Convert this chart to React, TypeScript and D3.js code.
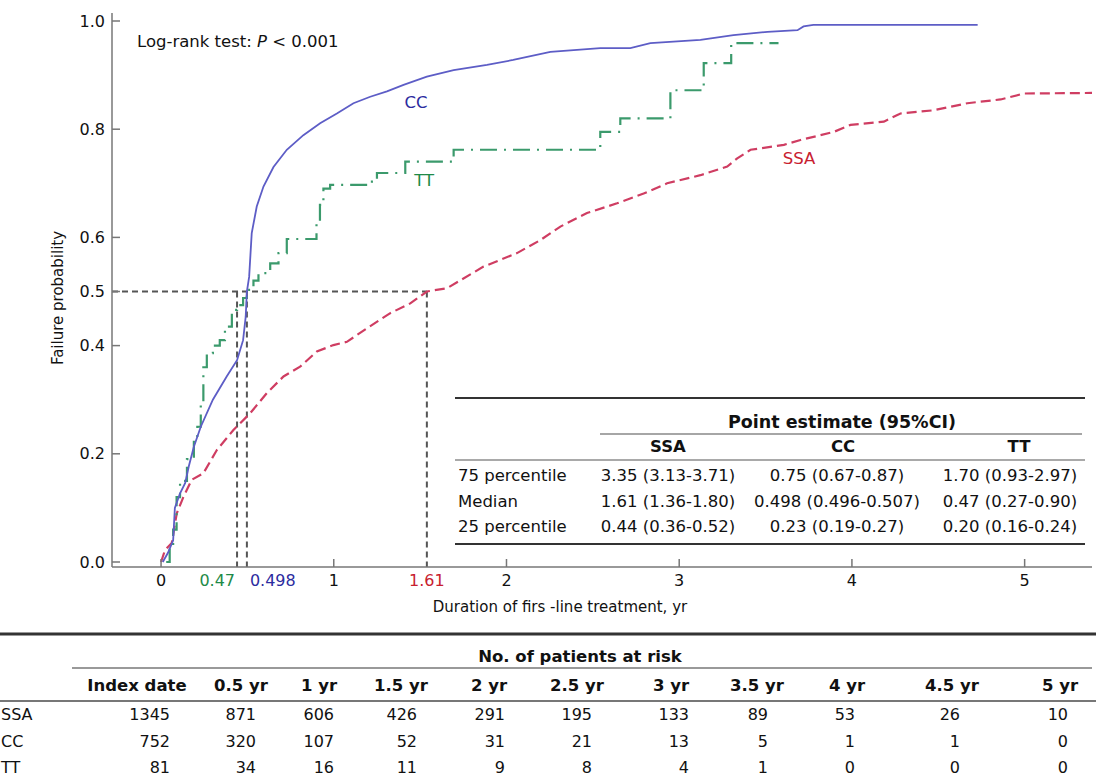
import React from "react";
import * as d3 from "d3";

const W = 1096;
const H = 778;

// cumulative failure curves, [years, probability]
const ssaCurve: [number, number][] = [
  [0, 0], [0.023, 0.022], [0.062, 0.035], [0.091, 0.09], [0.129, 0.12], [0.178, 0.152],
  [0.245, 0.164], [0.323, 0.207], [0.419, 0.244], [0.516, 0.275], [0.612, 0.312],
  [0.709, 0.343], [0.805, 0.361], [0.902, 0.389], [0.998, 0.401], [1.076, 0.407],
  [1.192, 0.432], [1.327, 0.46], [1.443, 0.478], [1.539, 0.5], [1.655, 0.506],
  [1.867, 0.546], [2.061, 0.571], [2.196, 0.595], [2.312, 0.62], [2.466, 0.645],
  [2.64, 0.663], [2.794, 0.681], [2.93, 0.7], [3.123, 0.715], [3.278, 0.731],
  [3.336, 0.746], [3.413, 0.762], [3.606, 0.771], [3.702, 0.78], [3.895, 0.795],
  [3.992, 0.808], [4.185, 0.814], [4.281, 0.829], [4.474, 0.835], [4.668, 0.848],
  [4.861, 0.855], [4.996, 0.866], [5.39, 0.867],
];

const ccCurve: [number, number][] = [
  [0.01, 0], [0.04, 0.017], [0.07, 0.04], [0.08, 0.1], [0.11, 0.127], [0.14, 0.146],
  [0.16, 0.176], [0.19, 0.213], [0.23, 0.25], [0.3, 0.3], [0.38, 0.343], [0.44, 0.373],
  [0.475, 0.41], [0.49, 0.453], [0.497, 0.5], [0.51, 0.527], [0.525, 0.608],
  [0.554, 0.657], [0.593, 0.694], [0.651, 0.73], [0.728, 0.762], [0.824, 0.789],
  [0.921, 0.811], [1.018, 0.829], [1.114, 0.848], [1.211, 0.86], [1.308, 0.87],
  [1.404, 0.882], [1.539, 0.897], [1.694, 0.909], [1.887, 0.919], [2.039, 0.928],
  [2.254, 0.943], [2.543, 0.95], [2.717, 0.95], [2.833, 0.959], [3.123, 0.965],
  [3.314, 0.974], [3.511, 0.98], [3.685, 0.983], [3.72, 0.99], [3.777, 0.993],
  [4.728, 0.993],
];

const ttCurve: [number, number][] = [
  [0.03, 0], [0.05, 0.03], [0.07, 0.06], [0.09, 0.12], [0.11, 0.15], [0.15, 0.19],
  [0.19, 0.23], [0.21, 0.25], [0.23, 0.29], [0.245, 0.36], [0.265, 0.386], [0.3, 0.4],
  [0.34, 0.41], [0.37, 0.435], [0.41, 0.466], [0.44, 0.475], [0.475, 0.488],
  [0.497, 0.503], [0.535, 0.52], [0.564, 0.534], [0.632, 0.552], [0.68, 0.571],
  [0.728, 0.597], [0.9, 0.626], [0.92, 0.66], [0.94, 0.69], [0.979, 0.697],
  [1.221, 0.703], [1.25, 0.719], [1.414, 0.74], [1.694, 0.762], [2.543, 0.795],
  [2.659, 0.82], [2.949, 0.872], [3.142, 0.922], [3.301, 0.959], [3.575, 0.959],
];

const yTicks = [0, 0.2, 0.4, 0.5, 0.6, 0.8, 1.0];
const xTicks = [0, 1, 2, 3, 4, 5];

// median markers: label and where the dashed drop line sits on the axis
const medianLabels = ["0.47", "0.498", "1.61"];
const medianPos = [0.44, 0.497, 1.539];

const groups = ["SSA", "CC", "TT"];
const percentileRows = ["75 percentile", "Median", "25 percentile"];
const ssaEstimates = ["3.35 (3.13-3.71)", "1.61 (1.36-1.80)", "0.44 (0.36-0.52)"];
const ccEstimates = ["0.75 (0.67-0.87)", "0.498 (0.496-0.507)", "0.23 (0.19-0.27)"];
const ttEstimates = ["1.70 (0.93-2.97)", "0.47 (0.27-0.90)", "0.20 (0.16-0.24)"];

const riskTimes = ["Index date", "0.5 yr", "1 yr", "1.5 yr", "2 yr", "2.5 yr", "3 yr", "3.5 yr", "4 yr", "4.5 yr", "5 yr"];
const riskSSA = [1345, 871, 606, 426, 291, 195, 133, 89, 53, 26, 10];
const riskCC = [752, 320, 107, 52, 31, 21, 13, 5, 1, 1, 0];
const riskTT = [81, 34, 16, 11, 9, 8, 4, 1, 0, 0, 0];

const colors = { SSA: "#cf3d62", CC: "#5d5dc6", TT: "#3b9a6c" };
const labelColors = { SSA: "#c8202f", CC: "#2c2ca0", TT: "#1e8a48" };
const medianColors = [labelColors.TT, labelColors.CC, labelColors.SSA];

const FONT = "'DejaVu Sans', Verdana, sans-serif";

// table column layout (pixels)
const riskHeaderX = [137, 241, 319, 401, 489, 577, 671, 757, 847, 952, 1060];
const riskValueRight = [170, 256, 334, 417, 505, 592, 689, 768, 855, 960, 1068];
const estHeaderX = [668, 843, 1019];
const estValueX = [668, 837, 1010];

export default function App() {
  const x = d3.scaleLinear().domain([-0.284, 5.39]).range([112, 1092]);
  const y = d3.scaleLinear().domain([0, 1]).range([562, 21]);

  const linear = d3.line<[number, number]>().x((d) => x(d[0])).y((d) => y(d[1]));
  const stepped = d3
    .line<[number, number]>()
    .x((d) => x(d[0]))
    .y((d) => y(d[1]))
    .curve(d3.curveStepAfter);

  const axisY = 567;
  const riskRows = [riskSSA, riskCC, riskTT];
  const estimates = [ssaEstimates, ccEstimates, ttEstimates];

  return (
    <div style={{ position: "absolute", left: 0, top: 0 }}>
      <svg width={W} height={H} style={{ display: "block", background: "#fff" }} fontFamily={FONT}>
        {/* median guide lines */}
        <g stroke="#555" strokeWidth={2} strokeDasharray="6,4" fill="none">
          <line x1={x.range()[0]} x2={x(medianPos[2])} y1={y(0.5)} y2={y(0.5)} />
          {medianPos.map((m, i) => (
            <line key={i} x1={x(m)} x2={x(m)} y1={y(0.5)} y2={axisY} />
          ))}
        </g>

        {/* curves */}
        <path d={linear(ssaCurve) || ""} fill="none" stroke={colors.SSA} strokeWidth={2.2} strokeDasharray="10,5" />
        <path d={stepped(ttCurve) || ""} fill="none" stroke={colors.TT} strokeWidth={2.2} strokeDasharray="17,7,2,7" />
        <path d={linear(ccCurve) || ""} fill="none" stroke={colors.CC} strokeWidth={1.8} />

        {/* axes */}
        <g stroke="#777" strokeWidth={1.5}>
          <line x1={112} x2={112} y1={13} y2={axisY} />
          <line x1={112} x2={1092} y1={axisY} y2={axisY} />
          {yTicks.map((t) => (
            <line key={t} x1={112} x2={120} y1={y(t)} y2={y(t)} />
          ))}
          {xTicks.map((t) => (
            <line key={t} x1={x(t)} x2={x(t)} y1={axisY} y2={axisY - 8} />
          ))}
        </g>
        <g fontSize={16} fill="#111">
          {yTicks.map((t) => (
            <text key={t} x={105} y={y(t)} dy="0.35em" textAnchor="end">
              {d3.format(".1f")(t)}
            </text>
          ))}
          {xTicks.map((t) => (
            <text key={t} x={x(t)} y={586} textAnchor="middle">
              {t}
            </text>
          ))}
          {medianLabels.map((l, i) => (
            <text
              key={l}
              x={x(medianPos[i]) + (i === 0 ? -2 : i === 1 ? 3 : 0)}
              y={586}
              textAnchor={i === 0 ? "end" : i === 1 ? "start" : "middle"}
              fill={medianColors[i]}
            >
              {l}
            </text>
          ))}
          <text x={560} y={612} textAnchor="middle" fontSize={15}>
            Duration of firs -line treatment, yr
          </text>
          <text transform="translate(63,298) rotate(-90)" textAnchor="middle" fontSize={15}>
            Failure probability
          </text>
          <text x={137} y={47} fontSize={16.5}>
            Log-rank test: <tspan fontStyle="italic">P</tspan> &lt; 0.001
          </text>
        </g>

        {/* curve labels */}
        <g fontSize={16.5}>
          <text x={x(1.41)} y={y(0.84)} fill={labelColors.CC}>CC</text>
          <text x={x(1.466)} y={y(0.695)} fill={labelColors.TT}>TT</text>
          <text x={x(3.6)} y={y(0.735)} fill={labelColors.SSA}>SSA</text>
        </g>

        {/* point estimate table */}
        <g fontSize={16.5} fill="#111">
          <line x1={455} x2={1085} y1={398} y2={398} stroke="#333" strokeWidth={2} />
          <text x={842} y={428} textAnchor="middle" fontWeight="bold" fontSize={17.5}>
            Point estimate (95%CI)
          </text>
          <line x1={600} x2={1082} y1={434} y2={434} stroke="#888" strokeWidth={1.5} />
          {groups.map((g, i) => (
            <text key={g} x={estHeaderX[i]} y={452} textAnchor="middle" fontWeight="bold">{g}</text>
          ))}
          <line x1={455} x2={1085} y1={460} y2={460} stroke="#555" strokeWidth={1.2} />
          {percentileRows.map((r, ri) => (
            <g key={r}>
              <text x={458} y={481 + ri * 25.5}>{r}</text>
              {estimates.map((col, ci) => (
                <text key={ci} x={estValueX[ci]} y={481 + ri * 25.5} textAnchor="middle">
                  {col[ri]}
                </text>
              ))}
            </g>
          ))}
          <line x1={455} x2={1085} y1={544} y2={544} stroke="#333" strokeWidth={2} />
        </g>

        {/* patients at risk table */}
        <g fontSize={16} fill="#111">
          <line x1={0} x2={W} y1={634} y2={634} stroke="#333" strokeWidth={3} />
          <text x={580} y={662} textAnchor="middle" fontWeight="bold" fontSize={16.5}>
            No. of patients at risk
          </text>
          <line x1={72} x2={1092} y1={668} y2={668} stroke="#777" strokeWidth={1.5} />
          {riskTimes.map((t, i) => (
            <text key={t} x={riskHeaderX[i]} y={691} textAnchor="middle" fontWeight="bold" fontSize={16.5}>
              {t}
            </text>
          ))}
          <line x1={0} x2={W} y1={701} y2={701} stroke="#777" strokeWidth={2} />
          {riskRows.map((row, ri) => (
            <g key={ri}>
              <text x={1} y={720 + ri * 26.5}>{groups[ri]}</text>
              {row.map((v, ci) => (
                <text key={ci} x={riskValueRight[ci]} y={720 + ri * 26.5} textAnchor="end">
                  {v}
                </text>
              ))}
            </g>
          ))}
        </g>
      </svg>
    </div>
  );
}
